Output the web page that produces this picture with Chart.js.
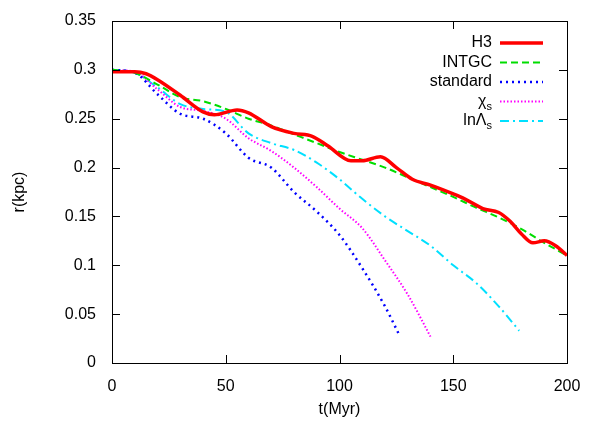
<!DOCTYPE html>
<html><head><script src="https://cdn.jsdelivr.net/npm/chart.js@4"></script>
<style>body{margin:0;background:#fff}</style></head><body>
<canvas id="c" width="600" height="421"></canvas>
<script>
const h3T=[0,10,15,20,30,40,45,55,60,70,80,88,95,105,110,118,125,132,140,150,155,163,170,175,180,185,190,195,200];
const h3R=[0.298,0.298,0.296,0.29,0.274,0.257,0.254,0.259,0.256,0.242,0.235,0.232,0.222,0.207,0.207,0.211,0.2,0.188,0.182,0.173,0.168,0.158,0.154,0.145,0.132,0.123,0.125,0.12,0.11];
const gT=[0,10,20,30,40,50,60,70,80,90,100,110,120,130,140,150,160,170,180,190,200];
const gR=[0.3,0.297,0.285,0.272,0.268,0.26,0.25,0.243,0.234,0.225,0.216,0.208,0.2,0.19,0.18,0.17,0.159,0.149,0.137,0.123,0.11];
const sT=[0,10,20,30,40,50,60,70,80,90,100,110,120,126];
const sR=[0.3,0.297,0.275,0.255,0.25,0.235,0.21,0.2,0.175,0.155,0.131,0.097,0.058,0.03];
const xT=[0,10,20,30,40,50,60,70,80,90,100,110,120,130,140];
const xR=[0.3,0.298,0.28,0.262,0.258,0.25,0.23,0.217,0.2,0.18,0.158,0.138,0.105,0.07,0.027];
const lT=[0,10,20,30,40,50,60,70,80,90,100,110,120,130,140,150,160,170,179];
const lR=[0.3,0.297,0.282,0.265,0.26,0.257,0.235,0.225,0.218,0.205,0.188,0.168,0.15,0.135,0.12,0.1,0.082,0.058,0.033];
const xTicks=[0,50,100,150,200];
const yTicks=[0,0.05,0.1,0.15,0.2,0.25,0.3,0.35];
const pts=(t,r)=>t.map((v,i)=>({x:v,y:r[i]}));
const F='"Liberation Sans", Arial, sans-serif';
const ds=(label,t,r,color,w,dash)=>({label,data:pts(t,r),borderColor:color,borderWidth:w,borderDash:dash,pointRadius:0,fill:false,cubicInterpolationMode:'monotone'});
const legendItems=[['H3',null],['INTGC',null],['standard',null],['χ','s'],['lnΛ','s']];
const deco={id:'deco',afterDraw(ch){
 const c=ch.ctx,a=ch.chartArea,xs=ch.scales.x,ys=ch.scales.y;
 c.save();c.strokeStyle='#000';c.lineWidth=1;
 c.strokeRect(a.left+0.5,a.top+0.5,a.right-a.left,a.bottom-a.top);
 xTicks.forEach(v=>{const p=Math.round(xs.getPixelForValue(v))+0.5;c.beginPath();c.moveTo(p,a.bottom);c.lineTo(p,a.bottom-8);c.moveTo(p,a.top);c.lineTo(p,a.top+8);c.stroke();});
 yTicks.forEach(v=>{const p=Math.round(ys.getPixelForValue(v))+0.5;c.beginPath();c.moveTo(a.left,p);c.lineTo(a.left+8,p);c.moveTo(a.right,p);c.lineTo(a.right-8,p);c.stroke();});
 c.fillStyle='#000';c.font='16px '+F;c.textAlign='center';c.textBaseline='alphabetic';
 c.fillText('t(Myr)',(a.left+a.right)/2,414);
 c.save();c.translate(24,(a.top+a.bottom)/2);c.rotate(-Math.PI/2);c.fillText('r(kpc)',0,0);c.restore();
 ch.data.datasets.forEach((d,i)=>{
  const y=43+i*19.5;
  c.textAlign='right';c.textBaseline='middle';c.font='16px '+F;
  const [main,sub]=legendItems[i];
  let xr=492;
  if(sub){c.font='11px '+F;c.fillText(sub,xr,y+5);xr-=c.measureText(sub).width;c.font='16px '+F;}
  c.fillText(main,xr,y);
  c.strokeStyle=d.borderColor;c.lineWidth=d.borderWidth;c.setLineDash(d.borderDash||[]);
  c.beginPath();c.moveTo(500,y);c.lineTo(543,y);c.stroke();c.setLineDash([]);
 });
 c.restore();}};
new Chart(document.getElementById('c'),{type:'line',
 data:{datasets:[ds('H3',h3T,h3R,'#ff0000',3.5,[]),ds('INTGC',gT,gR,'#00dd00',2,[7,4]),ds('standard',sT,sR,'#0000ff',2.5,[2,4]),ds('χs',xT,xR,'#ff00ff',2,[1.5,2]),ds('lnΛs',lT,lR,'#00e0ff',2,[9,4,2,4])]},
 options:{responsive:false,animation:false,devicePixelRatio:1,
  layout:{padding:{left:0,top:21,right:33,bottom:0}},
  plugins:{legend:{display:false},tooltip:{enabled:false}},
  scales:{
   x:{type:'linear',min:0,max:200,grid:{display:false},border:{display:false},
    afterBuildTicks:s=>{s.ticks=xTicks.map(v=>({value:v}));},
    afterFit:s=>{s.height=58;},
    ticks:{color:'#000',font:{size:16,family:F},padding:6,maxRotation:0}},
   y:{min:0,max:0.35,grid:{display:false},border:{display:false},
    afterBuildTicks:s=>{s.ticks=yTicks.map(v=>({value:v}));},
    afterFit:s=>{s.width=112;},
    ticks:{color:'#000',font:{size:16,family:F},padding:8,callback:v=>String(+v.toFixed(2))}}}},
 plugins:[deco]});
</script></body></html>
